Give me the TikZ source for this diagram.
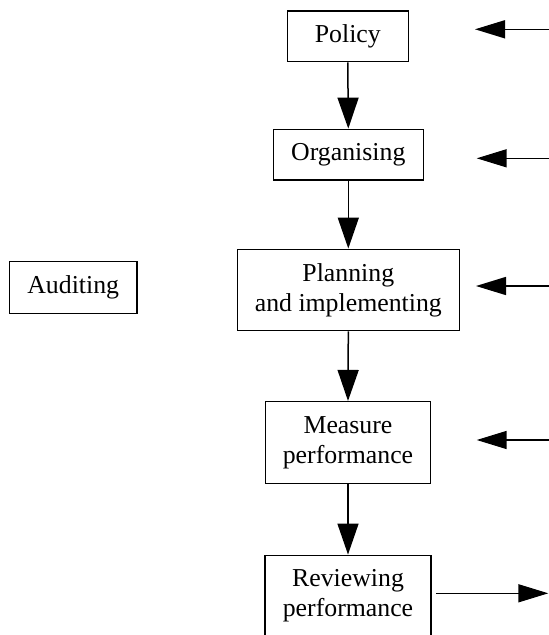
\documentclass[tikz,border=0pt]{standalone}
\usepackage{fontspec}
\setmainfont{Liberation Serif}
\usetikzlibrary{arrows.meta}
\begin{document}
\begin{tikzpicture}[x=1pt,y=-1pt,
  box/.style={draw=black,line width=1.5pt,inner sep=0pt,align=center,
    font=\fontsize{25.8}{30}\selectfont},
  flow/.style={line width=1.5pt,-{Triangle[length=31pt,width=21pt]}},
  feed/.style={line width=1.5pt,-{Triangle[length=30pt,width=18pt]}}]
\useasboundingbox (0,0) rectangle (549,635);
\node[box,minimum width=121pt,minimum height=50.7pt] (pol) at (347.8,36.3) {Policy};
\node[box,minimum width=150pt,minimum height=50.7pt] (org) at (348.3,154.7) {Organising};
\node[box,minimum width=222pt,minimum height=81.4pt] (pla) at (348.3,290) {Planning\\and implementing};
\node[box,minimum width=165pt,minimum height=81.6pt] (mea) at (348,442.5) {Measure\\performance};
\node[box,minimum width=166pt,minimum height=80pt] (rev) at (348,595.3) {Reviewing\\performance};
\node[box,minimum width=127.7pt,minimum height=51.6pt] (aud) at (73.2,287.5) {Auditing};
\draw[flow] (pol.south) -- (org.north);
\draw[flow] (org.south) -- (pla.north);
\draw[flow] (pla.south) -- (mea.north);
\draw[flow] (mea.south) -- (rev.north);
\coordinate (s1) at (552,29.3);   \coordinate (t1) at (475,29.3);
\coordinate (s2) at (552,158.3);  \coordinate (t2) at (476.7,158.3);
\coordinate (s3) at (552,286);    \coordinate (t3) at (476,286);
\coordinate (s4) at (552,440);    \coordinate (t4) at (476.7,440);
\coordinate (r0) at (436,593.3);  \coordinate (r1) at (548.3,593.3);
\draw[feed] (s1) -- (t1);
\draw[feed] (s2) -- (t2);
\draw[feed] (s3) -- (t3);
\draw[feed] (s4) -- (t4);
\draw[feed] (r0) -- (r1);
\end{tikzpicture}
\end{document}
